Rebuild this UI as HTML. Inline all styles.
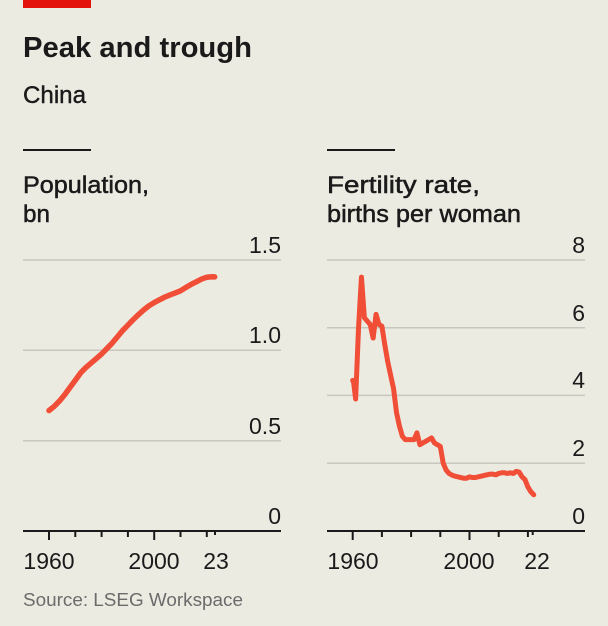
<!DOCTYPE html>
<html><head><meta charset="utf-8"><style>
html,body{margin:0;padding:0;background:#ecebe2;}
svg{display:block;font-family:"Liberation Sans",sans-serif;}
</style></head><body>
<svg width="608" height="626" viewBox="0 0 608 626" xmlns="http://www.w3.org/2000/svg">
<rect width="608" height="626" fill="#ecebe2"/>
<rect x="23" y="0" width="68" height="8" fill="#e3120b"/>
<text x="23" y="57" font-size="29" font-weight="bold" fill="#1a1a1a" textLength="229" lengthAdjust="spacingAndGlyphs">Peak and trough</text>
<text x="23" y="103" font-size="24" fill="#1a1a1a" textLength="63" lengthAdjust="spacingAndGlyphs" stroke="#1a1a1a" stroke-width="0.4">China</text>
<rect x="23" y="149" width="68" height="2" fill="#1a1a1a"/>
<rect x="327" y="149" width="68" height="2" fill="#1a1a1a"/>
<g fill="#1a1a1a" stroke="#1a1a1a" stroke-width="0.5" font-size="24">
<text x="23" y="193" textLength="126" lengthAdjust="spacingAndGlyphs">Population,</text>
<text x="23" y="222" textLength="27" lengthAdjust="spacingAndGlyphs">bn</text>
<text x="327" y="193" textLength="153" lengthAdjust="spacingAndGlyphs">Fertility rate,</text>
<text x="327" y="222" textLength="194" lengthAdjust="spacingAndGlyphs">births per woman</text>
</g>

<g stroke="#c8c7bd" stroke-width="1.5">
<line x1="23" y1="260" x2="281" y2="260"/><line x1="23" y1="350.3" x2="281" y2="350.3"/><line x1="23" y1="440.7" x2="281" y2="440.7"/>
<line x1="327" y1="260" x2="585" y2="260"/><line x1="327" y1="327.7" x2="585" y2="327.7"/><line x1="327" y1="395.4" x2="585" y2="395.4"/><line x1="327" y1="463.2" x2="585" y2="463.2"/>
</g>
<g fill="#1a1a1a" font-size="23" text-anchor="end">
<text x="281" y="253">1.5</text><text x="281" y="343">1.0</text><text x="281" y="434">0.5</text><text x="281" y="524">0</text>
<text x="585" y="253">8</text><text x="585" y="321">6</text><text x="585" y="388">4</text><text x="585" y="456">2</text><text x="585" y="524">0</text>
</g>
<g stroke="#1a1a1a" stroke-width="2">
<line x1="23" y1="531" x2="281" y2="531"/><line x1="327" y1="531" x2="585" y2="531"/>
<line x1="49" y1="531" x2="49" y2="540"/><line x1="75.3" y1="531" x2="75.3" y2="537"/><line x1="101.6" y1="531" x2="101.6" y2="537"/><line x1="127.9" y1="531" x2="127.9" y2="537"/><line x1="154.2" y1="531" x2="154.2" y2="540"/><line x1="180.5" y1="531" x2="180.5" y2="537"/><line x1="206.8" y1="531" x2="206.8" y2="537"/><line x1="215" y1="531" x2="215" y2="535"/>
<line x1="352.7" y1="531" x2="352.7" y2="540"/><line x1="381.9" y1="531" x2="381.9" y2="537"/><line x1="411.1" y1="531" x2="411.1" y2="537"/><line x1="440.3" y1="531" x2="440.3" y2="537"/><line x1="469.5" y1="531" x2="469.5" y2="540"/><line x1="498.7" y1="531" x2="498.7" y2="537"/><line x1="527.9" y1="531" x2="527.9" y2="537"/><line x1="532.7" y1="531" x2="532.7" y2="535"/>
</g>
<g fill="#1a1a1a" font-size="23" text-anchor="middle">
<text x="49" y="569">1960</text><text x="154" y="569">2000</text><text x="216" y="569">23</text>
<text x="353" y="569">1960</text><text x="469" y="569">2000</text><text x="537" y="569">22</text>
</g>
<text x="23" y="606" font-size="18" fill="#6b6b6b" textLength="220" lengthAdjust="spacingAndGlyphs">Source: LSEG Workspace</text>

<g transform="translate(-5105.8,531) scale(2.63,-180.6)">
<polyline fill="none" stroke="#f04e37" stroke-width="5.5" stroke-linejoin="round" stroke-linecap="round" vector-effect="non-scaling-stroke"
points="1960,0.667 1962,0.69 1964,0.72 1966,0.755 1968,0.795 1970,0.835 1972,0.875 1974,0.905 1976,0.93 1978,0.955 1980,0.98 1982,1.01 1984,1.04 1986,1.075 1988,1.11 1990,1.14 1992,1.17 1994,1.198 1996,1.224 1998,1.247 2000,1.265 2002,1.28 2004,1.295 2006,1.307 2008,1.318 2010,1.33 2012,1.348 2014,1.365 2016,1.38 2018,1.395 2020,1.405 2022,1.408 2023,1.407"/>
</g>
<g transform="translate(-5370.5,531) scale(2.92,-33.85)">
<polyline fill="none" stroke="#f04e37" stroke-width="5" stroke-linejoin="round" stroke-linecap="round" vector-effect="non-scaling-stroke"
points="1960,4.45 1960.3,4.4 1961,3.9 1962,6.0 1963,7.5 1964,6.3 1965,6.2 1966,6.1 1967,5.7 1968,6.4 1969,6.1 1970,6.05 1971,5.5 1972,5.0 1973,4.6 1974,4.2 1975,3.5 1976,3.1 1977,2.8 1978,2.7 1979,2.7 1980,2.7 1981,2.7 1982,2.9 1983,2.55 1984,2.6 1985,2.65 1986,2.7 1987,2.75 1988,2.6 1989,2.55 1990,2.5 1991,2.0 1992,1.8 1993,1.7 1994,1.65 1995,1.62 1996,1.6 1997,1.58 1998,1.56 1999,1.56 2000,1.6 2001,1.58 2002,1.58 2003,1.6 2004,1.62 2005,1.64 2006,1.66 2007,1.68 2008,1.68 2009,1.66 2010,1.7 2011,1.72 2012,1.72 2013,1.7 2014,1.72 2015,1.7 2016,1.76 2017,1.74 2018,1.6 2019,1.52 2020,1.3 2021,1.16 2022,1.07"/>
</g>
</svg>
</body></html>
